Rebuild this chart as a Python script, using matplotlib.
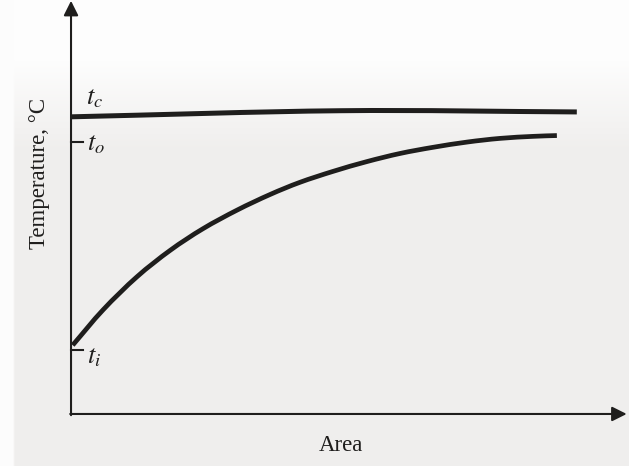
import matplotlib.pyplot as plt
import numpy as np
from matplotlib.path import Path
from matplotlib.patches import PathPatch

# temperature profile along the exchanger (arbitrary units, 0-100 on both axes)
area_hot = [0, 48.6, 91.3]
temp_hot = [73.0, 74.5, 74.2]  # condensing side, t_c

area_cold = [0.3, 5.8, 11.9, 17.9, 23.8, 30.0, 35.9, 41.3, 47.3, 53.4,
             59.4, 65.3, 71.5, 77.4, 83.4, 87.7]
temp_cold = [16.9, 25.6, 33.7, 40.2, 45.5, 50.1, 53.9, 56.9, 59.6, 62.0,
             64.0, 65.5, 66.8, 67.7, 68.2, 68.4]

t_in = 15.7
t_out = 66.8

plt.rcParams['mathtext.fontset'] = 'stix'
plt.rcParams['font.family'] = ['Liberation Serif', 'DejaVu Serif']

XL = (-12.82, 100.72)
YL = (-12.78, 101.7)

fig = plt.figure(figsize=(6.29, 4.66), dpi=100)
ax = fig.add_axes([0, 0, 1, 1])
ax.axis('off')

# paper tone: near white at the top, greyer lower down
rows = np.linspace(0, 1, 233)[:, None] * np.ones((1, 315))
shade = np.clip((rows - 0.12) / 0.2, 0, 1)
paper = np.empty(rows.shape + (3,))
top = np.array([0.995, 0.995, 0.995])
bottom = np.array([0.94, 0.935, 0.93])
for k in range(3):
    paper[..., k] = top[k] + (bottom[k] - top[k]) * shade
# narrow white margin on the left edge
paper[:, :7] = 0.99
ax.imshow(paper, extent=(XL[0], XL[1], YL[0], YL[1]), aspect='auto',
          zorder=0, origin='upper', interpolation='bilinear')
ax.set_xlim(*XL)
ax.set_ylim(*YL)

ink = '#1f1e1d'


def smooth_path(xs, ys):
    # Catmull-Rom through the readings, written as cubic Bezier segments
    p = np.column_stack([xs, ys]).astype(float)
    ext = np.vstack([2 * p[0] - p[1], p, 2 * p[-1] - p[-2]])
    verts = [p[0]]
    codes = [Path.MOVETO]
    for i in range(1, len(ext) - 2):
        c1 = ext[i] + (ext[i + 1] - ext[i - 1]) / 6
        c2 = ext[i + 1] - (ext[i + 2] - ext[i]) / 6
        verts += [c1, c2, ext[i + 1]]
        codes += [Path.CURVE4] * 3
    return Path(verts, codes)


# axes with arrow heads
ax.annotate('', xy=(0, 101.5), xytext=(0, -0.3),
            arrowprops=dict(arrowstyle='-|>', color=ink, lw=1.5,
                            mutation_scale=22, shrinkA=0, shrinkB=0))
ax.annotate('', xy=(100.3, 0), xytext=(-0.15, 0),
            arrowprops=dict(arrowstyle='-|>', color=ink, lw=1.5,
                            mutation_scale=22, shrinkA=0, shrinkB=0))

# curves
for xs, ys, w in [(area_hot, temp_hot, 3.6), (area_cold, temp_cold, 3.4)]:
    ax.add_patch(PathPatch(smooth_path(xs, ys), fill=False, edgecolor=ink,
                           lw=w, capstyle='butt', zorder=3))

# small ticks for t_o and t_i
ax.plot([0, 2.2], [t_out, t_out], color=ink, lw=1.5)
ax.plot([0, 2.2], [t_in, t_in], color=ink, lw=1.5)

ax.text(2.7, 74.6, r'$t_c$', fontsize=19, color=ink, va='bottom', ha='left')
ax.text(2.9, t_out - 0.6, r'$t_o$', fontsize=19, color=ink, va='center', ha='left')
ax.text(2.9, t_in - 1.8, r'$t_i$', fontsize=19, color=ink, va='center', ha='left')

ax.text(48.8, -7.75, 'Area', fontsize=16.5, color=ink, ha='center', va='center')
ax.text(-5.6, 59.0, 'Temperature, °C', fontsize=16.5, color=ink,
        rotation=90, ha='center', va='center')

fig.savefig('out.png', dpi=100)
